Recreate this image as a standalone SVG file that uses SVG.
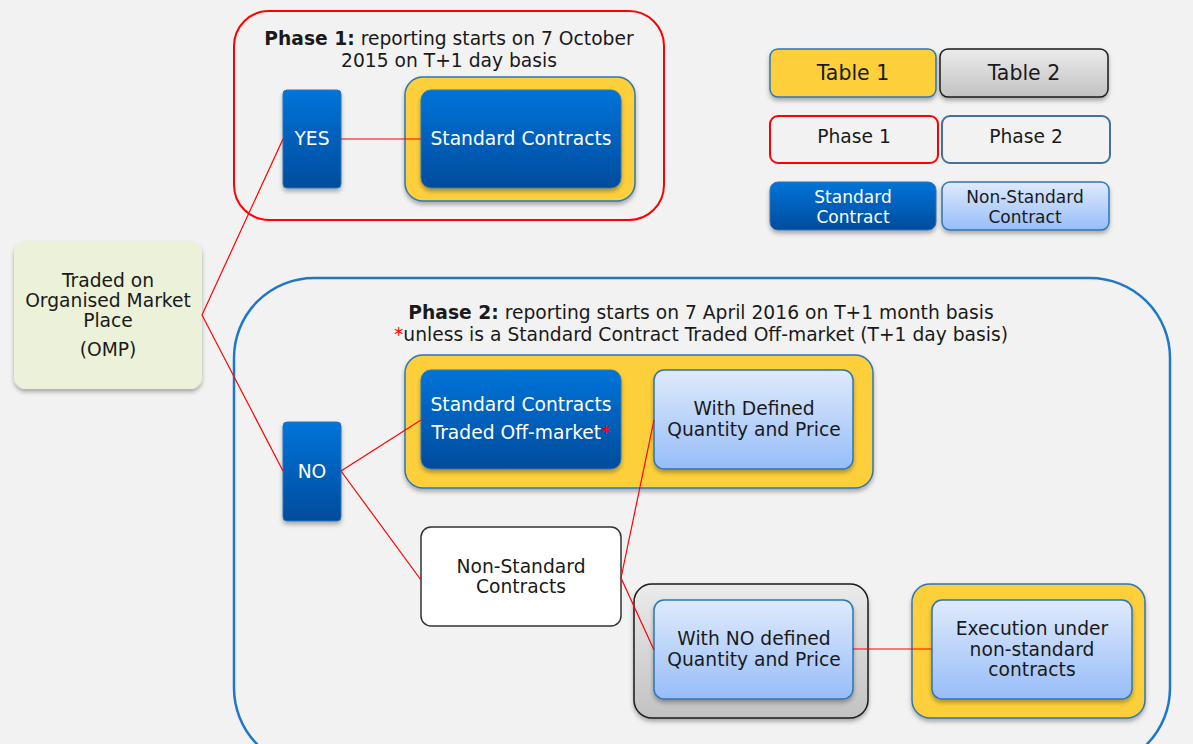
<svg xmlns="http://www.w3.org/2000/svg" width="1193" height="744" viewBox="0 0 1193 744">
<defs>
<linearGradient id="gBlue" x1="0" y1="0" x2="0" y2="1"><stop offset="0" stop-color="#0074d9"/><stop offset="1" stop-color="#004c9c"/></linearGradient>
<linearGradient id="gLight" x1="0" y1="0" x2="0" y2="1"><stop offset="0" stop-color="#dfeafc"/><stop offset="1" stop-color="#97bdf8"/></linearGradient>
<linearGradient id="gGray" x1="0" y1="0" x2="0" y2="1"><stop offset="0" stop-color="#ebebeb"/><stop offset="1" stop-color="#c2c2c2"/></linearGradient>
<filter id="sh" x="-10%" y="-10%" width="120%" height="130%"><feDropShadow dx="0" dy="3" stdDeviation="2" flood-color="#000" flood-opacity="0.3"/></filter>
<style>
text{font-family:"DejaVu Sans","Verdana",sans-serif;font-size:18.7px;text-anchor:middle;fill:#1a1a1a}
.w{fill:#ffffff}
.b{font-weight:bold}
.blue{fill:url(#gBlue);stroke:#2e75b6;stroke-width:1}
.light{fill:url(#gLight);stroke:#2e75b6;stroke-width:1.5}
.yel{fill:#fdd03a;stroke:#2e75b6;stroke-width:1.5}
.gray{fill:url(#gGray);stroke:#1a1a1a;stroke-width:1.5}
.con{stroke:#ff0000;stroke-width:1.2;fill:none}
</style>
</defs>
<rect width="1193" height="744" fill="#f2f2f2"/>

<g id="phase1">
<rect x="234" y="11" width="430" height="209" rx="35" fill="none" stroke="#ff0000" stroke-width="2"/>
<text x="449" y="45"><tspan class="b">Phase 1:</tspan> reporting starts on 7 October</text>
<text x="449" y="67">2015 on T+1 day basis</text>
</g>

<g id="phase2">
<rect x="234" y="278" width="936" height="490" rx="80" fill="none" stroke="#1f77c9" stroke-width="2.5"/>
<text x="701" y="319"><tspan class="b">Phase 2:</tspan> reporting starts on 7 April 2016 on T+1 month basis</text>
<text x="701" y="341"><tspan fill="#ff0000">*</tspan>unless is a Standard Contract Traded Off-market (T+1 day basis)</text>
</g>

<g id="omp">
<rect x="14" y="241" width="188" height="148" rx="12" fill="#ebf2d9" filter="url(#sh)"/>
<text x="108" y="287">Traded on</text>
<text x="108" y="307">Organised Market</text>
<text x="108" y="327">Place</text>
<text x="108" y="356">(OMP)</text>
</g>

<g id="yes">
<rect x="283" y="90" width="58" height="98" rx="4" class="blue" filter="url(#sh)"/>
<text class="w" x="312" y="145">YES</text>
</g>

<g id="std1">
<rect x="405" y="77" width="230" height="124" rx="18" class="yel" filter="url(#sh)"/>
<rect x="421" y="90" width="200" height="98" rx="10" class="blue" filter="url(#sh)"/>
<text class="w" x="521" y="145">Standard Contracts</text>
</g>

<g id="no">
<rect x="283" y="422" width="58" height="99" rx="4" class="blue" filter="url(#sh)"/>
<text class="w" x="312" y="478">NO</text>
</g>

<g id="table1grp2">
<rect x="405" y="355" width="468" height="133" rx="18" class="yel" filter="url(#sh)"/>
</g>

<g id="stdoff">
<rect x="421" y="370" width="200" height="99" rx="10" class="blue" filter="url(#sh)"/>
<text class="w" x="521" y="411">Standard Contracts</text>
<text class="w" x="521" y="439">Traded Off-market<tspan fill="#ff0000">*</tspan></text>
</g>

<g id="defined">
<rect x="654" y="370" width="199" height="99" rx="10" class="light" filter="url(#sh)"/>
<text x="754" y="415">With Defined</text>
<text x="754" y="436">Quantity and Price</text>
</g>

<g id="nonstd">
<rect x="421" y="527" width="200" height="99" rx="10" fill="#ffffff" stroke="#333333" stroke-width="1.5"/>
<text x="521" y="573">Non-Standard</text>
<text x="521" y="593">Contracts</text>
</g>

<g id="nodefined">
<rect x="634" y="584" width="234" height="134" rx="18" class="gray" filter="url(#sh)"/>
<rect x="654" y="600" width="199" height="99" rx="10" class="light" filter="url(#sh)"/>
<text x="754" y="645">With NO defined</text>
<text x="754" y="666">Quantity and Price</text>
</g>

<g id="execution">
<rect x="912" y="584" width="233" height="134" rx="18" class="yel" filter="url(#sh)"/>
<rect x="932" y="600" width="200" height="99" rx="10" class="light" filter="url(#sh)"/>
<text x="1032" y="635">Execution under</text>
<text x="1032" y="656">non-standard</text>
<text x="1032" y="676">contracts</text>
</g>

<g id="connectors">
<line class="con" x1="202" y1="315" x2="283" y2="139"/>
<line class="con" x1="202" y1="315" x2="283" y2="471"/>
<line class="con" x1="341" y1="139" x2="421" y2="139"/>
<line class="con" x1="341" y1="471" x2="421" y2="420"/>
<line class="con" x1="341" y1="471" x2="421" y2="580"/>
<line class="con" x1="621" y1="578" x2="654" y2="420"/>
<line class="con" x1="621" y1="578" x2="654" y2="650"/>
<line class="con" x1="853" y1="649" x2="932" y2="649"/>
</g>

<g id="legend">
<rect x="770" y="49" width="166" height="48" rx="8" class="yel" filter="url(#sh)"/>
<text x="853" y="80" style="font-size:20.5px">Table 1</text>
<rect x="940" y="49" width="168" height="48" rx="8" class="gray" filter="url(#sh)"/>
<text x="1024" y="80" style="font-size:20.5px">Table 2</text>
<rect x="770" y="116" width="168" height="47" rx="8" fill="none" stroke="#ff0000" stroke-width="2"/>
<text x="854" y="143">Phase 1</text>
<rect x="942" y="116" width="168" height="47" rx="8" fill="none" stroke="#41719c" stroke-width="2"/>
<text x="1026" y="143">Phase 2</text>
<rect x="770" y="182" width="166" height="48" rx="8" class="blue" filter="url(#sh)"/>
<text class="w" x="853" y="203" style="font-size:17px">Standard</text>
<text class="w" x="853" y="223" style="font-size:17px">Contract</text>
<rect x="942" y="182" width="167" height="48" rx="8" class="light" filter="url(#sh)"/>
<text x="1025" y="203" style="font-size:17px">Non-Standard</text>
<text x="1025" y="223" style="font-size:17px">Contract</text>
</g>
</svg>
